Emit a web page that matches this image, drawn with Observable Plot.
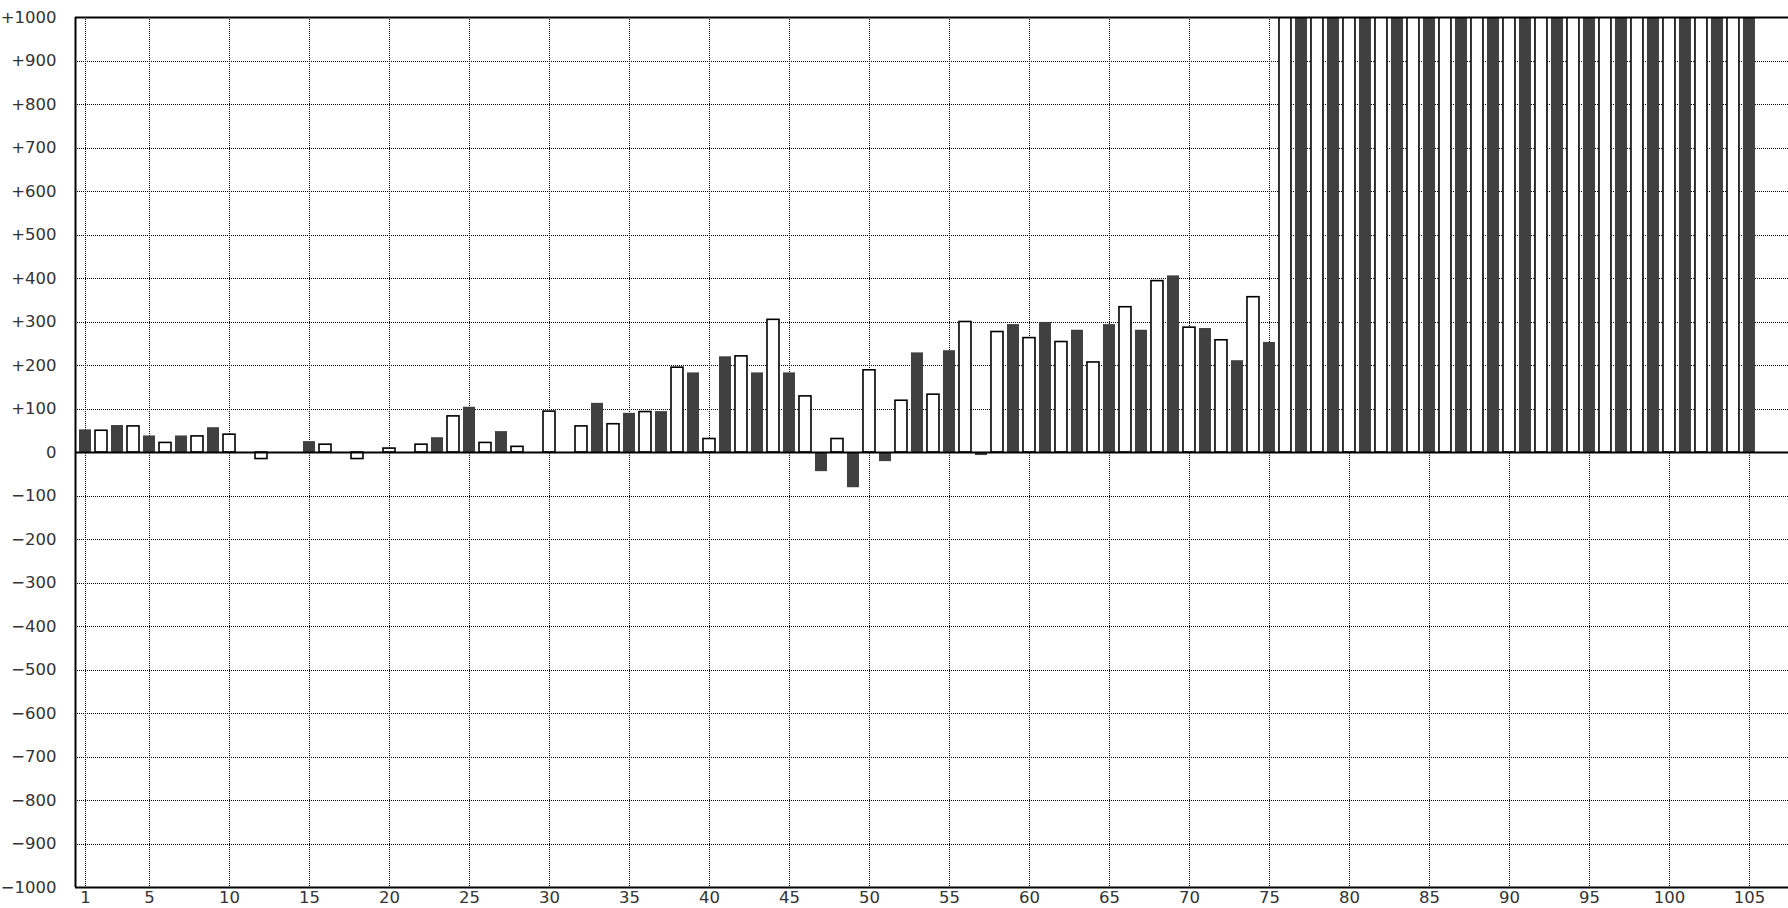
<!DOCTYPE html>
<html>
<head>
<meta charset="utf-8">
<script src="https://cdn.jsdelivr.net/npm/d3@7"></script>
<script src="https://cdn.jsdelivr.net/npm/@observablehq/plot@0.6"></script>
<style>
  html, body { margin: 0; padding: 0; background: #fff; }
  #chart svg { display: block; }
</style>
</head>
<body>
<div id="chart"></div>
<script>
// Values for positions 1..105 (odd = dark bars, even = white bars). 76..105 run off the top.
const values = [
  52, 50, 62, 60, 38, 22, 38, 37, 57, 41,
  0, -15, 0, 0, 25, 18, 0, -15, 0, 9,
  0, 18, 34, 83, 104, 22, 48, 13, 0, 94,
  0, 60, 113, 65, 90, 93, 94, 195, 183, 31,
  220, 221, 183, 305, 183, 129, -44, 31, -81, 189,
  -21, 119, 229, 133, 234, 300, -7, 277, 294, 263,
  299, 254, 281, 207, 294, 334, 281, 394, 406, 287,
  285, 258, 211, 357, 253, 1100, 1100, 1100, 1100, 1100,
  1100, 1100, 1100, 1100, 1100, 1100, 1100, 1100, 1100, 1100,
  1100, 1100, 1100, 1100, 1100, 1100, 1100, 1100, 1100, 1100,
  1100, 1100, 1100, 1100, 1100
];
const xTicks = [1, 5, 10, 15, 20, 25, 30, 35, 40, 45, 50, 55, 60, 65, 70, 75, 80, 85, 90, 95, 100, 105];
const yTicks = [-1000, -900, -800, -700, -600, -500, -400, -300, -200, -100, 0, 100, 200, 300, 400, 500, 600, 700, 800, 900, 1000];
const yGrid = [-900, -800, -700, -600, -500, -400, -300, -200, -100, 100, 200, 300, 400, 500, 600, 700, 800, 900];
const xDomain = [0.375, 107.44];
const yDomain = [-1000, 1000];

const bars = values.map((v, i) => ({n: i + 1, v, dark: (i + 1) % 2 === 1})).filter(d => d.v !== 0);
const darkBars = bars.filter(d => d.dark);
const whiteBars = bars.filter(d => !d.dark);
const halfW = 0.375;
const fmtY = d => d > 0 ? "+" + d : d < 0 ? "\u2212" + Math.abs(d) : "0";

const chart = Plot.plot({
  width: 1788,
  height: 908,
  marginLeft: 75,
  marginRight: 0,
  marginTop: 17,
  marginBottom: 21,
  style: {background: "#fff", fontFamily: "'DejaVu Sans', sans-serif", fontSize: "16.5px", color: "#333"},
  x: {domain: xDomain},
  y: {domain: yDomain},
  marks: [
    Plot.ruleX(xTicks, {stroke: "#000", strokeWidth: 1, strokeDasharray: "1,1", shapeRendering: "crispEdges"}),
    Plot.ruleY(yGrid, {stroke: "#000", strokeWidth: 1, strokeDasharray: "1,1", shapeRendering: "crispEdges"}),
    Plot.rect(darkBars, {x1: d => d.n - halfW, x2: d => d.n + halfW, y1: 0, y2: "v", fill: "#404040", clip: true}),
    Plot.rect(whiteBars, {x1: d => d.n - halfW, x2: d => d.n + halfW, y1: 0, y2: "v", fill: "#fff", stroke: "#000", strokeWidth: 1.6, clip: true}),
    Plot.ruleY([0], {stroke: "#000", strokeWidth: 2}),
    Plot.ruleY(yDomain, {stroke: "#000", strokeWidth: 2}),
    Plot.ruleX([xDomain[0]], {stroke: "#000", strokeWidth: 2}),
    Plot.axisY({ticks: yTicks, tickFormat: fmtY, tickSize: 0, tickPadding: 19, label: null}),
    Plot.axisX({ticks: xTicks, tickFormat: d => String(d), tickSize: 0, tickPadding: 4, label: null})
  ]
});
document.getElementById("chart").appendChild(chart);
</script>
</body>
</html>
